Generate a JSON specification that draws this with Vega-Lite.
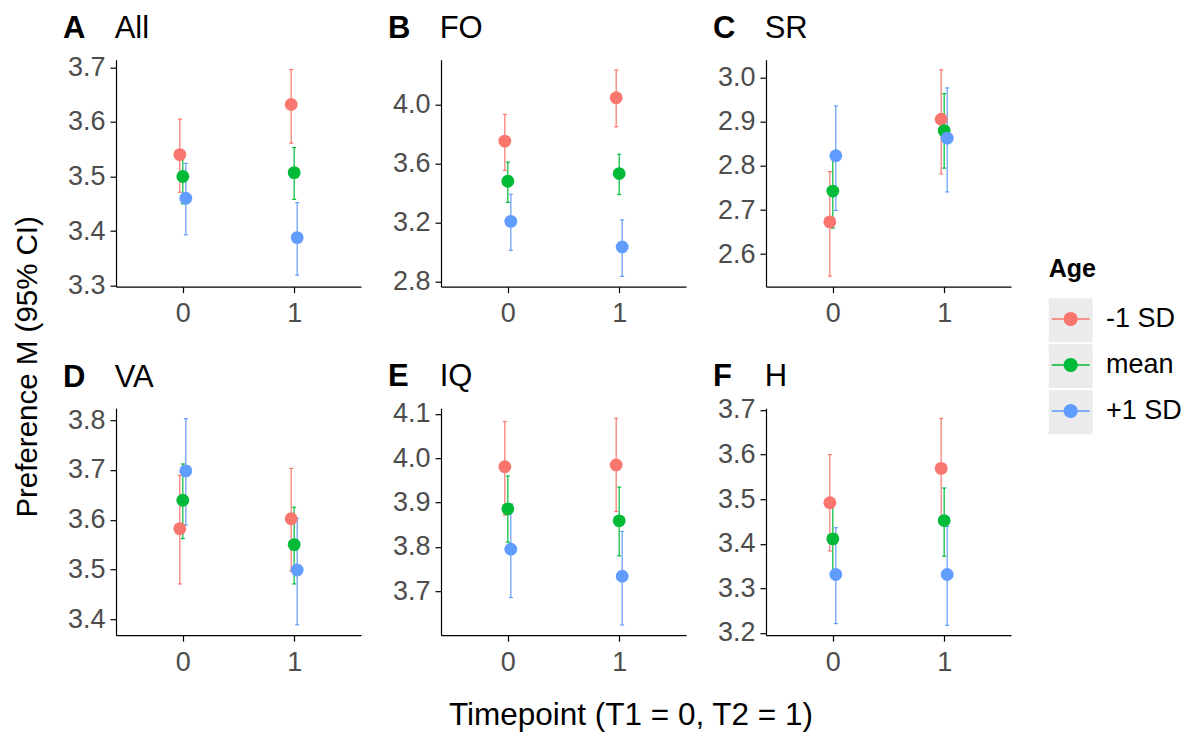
{
  "$schema": "https://vega.github.io/schema/vega-lite/v6.json",
  "padding": {"left": 12, "top": 12.7, "right": 0, "bottom": 0},
  "background": "white",
  "data": {"values": [
    {"panel": "All", "T": "0", "Age": "-1 SD", "m": 3.540, "lo": 3.471, "hi": 3.605},
    {"panel": "All", "T": "0", "Age": "mean", "m": 3.500, "lo": 3.450, "hi": 3.546},
    {"panel": "All", "T": "0", "Age": "+1 SD", "m": 3.460, "lo": 3.393, "hi": 3.524},
    {"panel": "All", "T": "1", "Age": "-1 SD", "m": 3.632, "lo": 3.561, "hi": 3.696},
    {"panel": "All", "T": "1", "Age": "mean", "m": 3.507, "lo": 3.458, "hi": 3.553},
    {"panel": "All", "T": "1", "Age": "+1 SD", "m": 3.388, "lo": 3.319, "hi": 3.452},
    {"panel": "FO", "T": "0", "Age": "-1 SD", "m": 3.751, "lo": 3.552, "hi": 3.932},
    {"panel": "FO", "T": "0", "Age": "mean", "m": 3.479, "lo": 3.336, "hi": 3.608},
    {"panel": "FO", "T": "0", "Age": "+1 SD", "m": 3.207, "lo": 3.010, "hi": 3.391},
    {"panel": "FO", "T": "1", "Age": "-1 SD", "m": 4.045, "lo": 3.848, "hi": 4.233},
    {"panel": "FO", "T": "1", "Age": "mean", "m": 3.531, "lo": 3.389, "hi": 3.662},
    {"panel": "FO", "T": "1", "Age": "+1 SD", "m": 3.033, "lo": 2.834, "hi": 3.217},
    {"panel": "SR", "T": "0", "Age": "-1 SD", "m": 2.673, "lo": 2.550, "hi": 2.787},
    {"panel": "SR", "T": "0", "Age": "mean", "m": 2.743, "lo": 2.659, "hi": 2.827},
    {"panel": "SR", "T": "0", "Age": "+1 SD", "m": 2.823, "lo": 2.699, "hi": 2.936},
    {"panel": "SR", "T": "1", "Age": "-1 SD", "m": 2.906, "lo": 2.782, "hi": 3.018},
    {"panel": "SR", "T": "1", "Age": "mean", "m": 2.880, "lo": 2.795, "hi": 2.964},
    {"panel": "SR", "T": "1", "Age": "+1 SD", "m": 2.863, "lo": 2.741, "hi": 2.977},
    {"panel": "VA", "T": "0", "Age": "-1 SD", "m": 3.582, "lo": 3.471, "hi": 3.689},
    {"panel": "VA", "T": "0", "Age": "mean", "m": 3.639, "lo": 3.562, "hi": 3.712},
    {"panel": "VA", "T": "0", "Age": "+1 SD", "m": 3.698, "lo": 3.589, "hi": 3.803},
    {"panel": "VA", "T": "1", "Age": "-1 SD", "m": 3.602, "lo": 3.497, "hi": 3.703},
    {"panel": "VA", "T": "1", "Age": "mean", "m": 3.550, "lo": 3.471, "hi": 3.625},
    {"panel": "VA", "T": "1", "Age": "+1 SD", "m": 3.499, "lo": 3.389, "hi": 3.603},
    {"panel": "IQ", "T": "0", "Age": "-1 SD", "m": 3.981, "lo": 3.872, "hi": 4.083},
    {"panel": "IQ", "T": "0", "Age": "mean", "m": 3.886, "lo": 3.811, "hi": 3.960},
    {"panel": "IQ", "T": "0", "Age": "+1 SD", "m": 3.795, "lo": 3.686, "hi": 3.897},
    {"panel": "IQ", "T": "1", "Age": "-1 SD", "m": 3.985, "lo": 3.880, "hi": 4.090},
    {"panel": "IQ", "T": "1", "Age": "mean", "m": 3.859, "lo": 3.780, "hi": 3.935},
    {"panel": "IQ", "T": "1", "Age": "+1 SD", "m": 3.734, "lo": 3.624, "hi": 3.835},
    {"panel": "H", "T": "0", "Age": "-1 SD", "m": 3.492, "lo": 3.384, "hi": 3.600},
    {"panel": "H", "T": "0", "Age": "mean", "m": 3.411, "lo": 3.333, "hi": 3.487},
    {"panel": "H", "T": "0", "Age": "+1 SD", "m": 3.331, "lo": 3.221, "hi": 3.436},
    {"panel": "H", "T": "1", "Age": "-1 SD", "m": 3.569, "lo": 3.457, "hi": 3.681},
    {"panel": "H", "T": "1", "Age": "mean", "m": 3.452, "lo": 3.372, "hi": 3.525},
    {"panel": "H", "T": "1", "Age": "+1 SD", "m": 3.331, "lo": 3.217, "hi": 3.439}
  ]},
  "title": {"text": "Preference M (95% CI)", "orient": "left", "anchor": "middle", "frame": "bounds", "fontSize": 29.5, "fontWeight": "normal", "dx": 5.5, "dy": 0, "offset": 19.5, "subtitle": ""},
  "vconcat": [{
    "title": {"text": "Timepoint (T1 = 0, T2 = 1)", "orient": "bottom", "anchor": "middle", "frame": "bounds", "fontSize": 31.5, "fontWeight": "normal", "dx": 94, "dy": 0, "offset": 25, "subtitle": ""},
    "spacing": 34.5,
    "vconcat": [
      {"spacing": 27, "hconcat": [
        {"width": 245, "height": 227, "title": {"text": "A", "subtitle": "\u200b\u00a0\u00a0\u00a0\u00a0\u00a0\u00a0All", "offset": 8.3},
         "transform": [{"filter": "datum.panel == 'All'"}],
         "encoding": {
           "x": {"field": "T", "type": "ordinal", "title": null, "scale": {"type": "point", "padding": 0.6}, "axis": {"labelAngle": 0}},
           "xOffset": {"field": "Age", "type": "nominal", "scale": {"type": "point", "domain": ["-1 SD", "mean", "+1 SD"], "range": [-4.5, 4.5]}},
           "color": {"field": "Age", "type": "nominal", "title": "Age", "scale": {"domain": ["-1 SD", "mean", "+1 SD"], "range": ["#F8766D", "#00BA38", "#619CFF"]}, "legend": {"zindex": 1}},
           "opacity": {"field": "Age", "type": "nominal", "scale": {"domain": ["mean", "-1 SD", "+1 SD"], "range": [1, 1, 1]}, "legend": {"title": null, "zindex": 0, "legendY": 238.5, "symbolType": "square", "symbolSize": 1936, "labelExpr": "''", "labelOffset": 0, "encode": {"symbols": {"update": {"fill": {"value": "#ebebeb"}, "stroke": {"value": "transparent"}, "opacity": {"value": 1}}}}}}
         },
         "layer": [
           {"mark": {"type": "rule", "strokeWidth": 1.2}, "encoding": {"y": {"field": "lo", "type": "quantitative", "title": null, "scale": {"domain": [3.298, 3.714], "nice": false, "zero": false}, "axis": {"values": [3.3, 3.4, 3.5, 3.6, 3.7], "format": ".1f"}}, "y2": {"field": "hi"}}},
           {"mark": {"type": "tick", "size": 4, "thickness": 1.2}, "encoding": {"y": {"field": "lo", "type": "quantitative", "title": null}}},
           {"mark": {"type": "tick", "size": 4, "thickness": 1.2}, "encoding": {"y": {"field": "hi", "type": "quantitative", "title": null}}},
           {"mark": {"type": "point", "filled": true, "size": 165}, "encoding": {"y": {"field": "m", "type": "quantitative", "title": null}}}
         ]},
        {"width": 245, "height": 227, "title": {"text": "B", "subtitle": "\u200b\u00a0\u00a0\u00a0\u00a0\u00a0\u00a0FO", "offset": 14.2},
         "transform": [{"filter": "datum.panel == 'FO'"}],
         "encoding": {
           "x": {"field": "T", "type": "ordinal", "title": null, "scale": {"type": "point", "padding": 0.6}, "axis": {"labelAngle": 0}},
           "xOffset": {"field": "Age", "type": "nominal", "scale": {"type": "point", "domain": ["-1 SD", "mean", "+1 SD"], "range": [-4.5, 4.5]}},
           "color": {"field": "Age", "type": "nominal", "title": "Age", "scale": {"domain": ["-1 SD", "mean", "+1 SD"], "range": ["#F8766D", "#00BA38", "#619CFF"]}, "legend": {"zindex": 1}},
           "opacity": {"field": "Age", "type": "nominal", "scale": {"domain": ["mean", "-1 SD", "+1 SD"], "range": [1, 1, 1]}, "legend": {"title": null, "zindex": 0, "legendY": 238.5, "symbolType": "square", "symbolSize": 1936, "labelExpr": "''", "labelOffset": 0, "encode": {"symbols": {"update": {"fill": {"value": "#ebebeb"}, "stroke": {"value": "transparent"}, "opacity": {"value": 1}}}}}}
         },
         "layer": [
           {"mark": {"type": "rule", "strokeWidth": 1.2}, "encoding": {"y": {"field": "lo", "type": "quantitative", "title": null, "scale": {"domain": [2.764, 4.303], "nice": false, "zero": false}, "axis": {"values": [2.8, 3.2, 3.6, 4.0], "format": ".1f"}}, "y2": {"field": "hi"}}},
           {"mark": {"type": "tick", "size": 4, "thickness": 1.2}, "encoding": {"y": {"field": "lo", "type": "quantitative", "title": null}}},
           {"mark": {"type": "tick", "size": 4, "thickness": 1.2}, "encoding": {"y": {"field": "hi", "type": "quantitative", "title": null}}},
           {"mark": {"type": "point", "filled": true, "size": 165}, "encoding": {"y": {"field": "m", "type": "quantitative", "title": null}}}
         ]},
        {"width": 245, "height": 227, "title": {"text": "C", "subtitle": "\u200b\u00a0\u00a0\u00a0\u00a0\u00a0\u00a0SR", "offset": 14.2},
         "transform": [{"filter": "datum.panel == 'SR'"}],
         "encoding": {
           "x": {"field": "T", "type": "ordinal", "title": null, "scale": {"type": "point", "padding": 0.6}, "axis": {"labelAngle": 0}},
           "xOffset": {"field": "Age", "type": "nominal", "scale": {"type": "point", "domain": ["-1 SD", "mean", "+1 SD"], "range": [-4.5, 4.5]}},
           "color": {"field": "Age", "type": "nominal", "title": "Age", "scale": {"domain": ["-1 SD", "mean", "+1 SD"], "range": ["#F8766D", "#00BA38", "#619CFF"]}, "legend": {"zindex": 1}},
           "opacity": {"field": "Age", "type": "nominal", "scale": {"domain": ["mean", "-1 SD", "+1 SD"], "range": [1, 1, 1]}, "legend": {"title": null, "zindex": 0, "legendY": 238.5, "symbolType": "square", "symbolSize": 1936, "labelExpr": "''", "labelOffset": 0, "encode": {"symbols": {"update": {"fill": {"value": "#ebebeb"}, "stroke": {"value": "transparent"}, "opacity": {"value": 1}}}}}}
         },
         "layer": [
           {"mark": {"type": "rule", "strokeWidth": 1.2}, "encoding": {"y": {"field": "lo", "type": "quantitative", "title": null, "scale": {"domain": [2.526, 3.041], "nice": false, "zero": false}, "axis": {"values": [2.6, 2.7, 2.8, 2.9, 3.0], "format": ".1f"}}, "y2": {"field": "hi"}}},
           {"mark": {"type": "tick", "size": 4, "thickness": 1.2}, "encoding": {"y": {"field": "lo", "type": "quantitative", "title": null}}},
           {"mark": {"type": "tick", "size": 4, "thickness": 1.2}, "encoding": {"y": {"field": "hi", "type": "quantitative", "title": null}}},
           {"mark": {"type": "point", "filled": true, "size": 165}, "encoding": {"y": {"field": "m", "type": "quantitative", "title": null}}}
         ]}
      ]},
      {"spacing": 27, "hconcat": [
        {"width": 245, "height": 227, "title": {"text": "D", "subtitle": "\u200b\u00a0\u00a0\u00a0\u00a0\u00a0\u00a0VA", "offset": 12.6},
         "transform": [{"filter": "datum.panel == 'VA'"}],
         "encoding": {
           "x": {"field": "T", "type": "ordinal", "title": null, "scale": {"type": "point", "padding": 0.6}, "axis": {"labelAngle": 0}},
           "xOffset": {"field": "Age", "type": "nominal", "scale": {"type": "point", "domain": ["-1 SD", "mean", "+1 SD"], "range": [-4.5, 4.5]}},
           "color": {"field": "Age", "type": "nominal", "title": "Age", "scale": {"domain": ["-1 SD", "mean", "+1 SD"], "range": ["#F8766D", "#00BA38", "#619CFF"]}, "legend": {"zindex": 1}},
           "opacity": {"field": "Age", "type": "nominal", "scale": {"domain": ["mean", "-1 SD", "+1 SD"], "range": [1, 1, 1]}, "legend": {"title": null, "zindex": 0, "legendY": 238.5, "symbolType": "square", "symbolSize": 1936, "labelExpr": "''", "labelOffset": 0, "encode": {"symbols": {"update": {"fill": {"value": "#ebebeb"}, "stroke": {"value": "transparent"}, "opacity": {"value": 1}}}}}}
         },
         "layer": [
           {"mark": {"type": "rule", "strokeWidth": 1.2}, "encoding": {"y": {"field": "lo", "type": "quantitative", "title": null, "scale": {"domain": [3.368, 3.824], "nice": false, "zero": false}, "axis": {"values": [3.4, 3.5, 3.6, 3.7, 3.8], "format": ".1f"}}, "y2": {"field": "hi"}}},
           {"mark": {"type": "tick", "size": 4, "thickness": 1.2}, "encoding": {"y": {"field": "lo", "type": "quantitative", "title": null}}},
           {"mark": {"type": "tick", "size": 4, "thickness": 1.2}, "encoding": {"y": {"field": "hi", "type": "quantitative", "title": null}}},
           {"mark": {"type": "point", "filled": true, "size": 165}, "encoding": {"y": {"field": "m", "type": "quantitative", "title": null}}}
         ]},
        {"width": 245, "height": 227, "title": {"text": "E", "subtitle": "\u200b\u00a0\u00a0\u00a0\u00a0\u00a0\u00a0IQ", "offset": 6.5},
         "transform": [{"filter": "datum.panel == 'IQ'"}],
         "encoding": {
           "x": {"field": "T", "type": "ordinal", "title": null, "scale": {"type": "point", "padding": 0.6}, "axis": {"labelAngle": 0}},
           "xOffset": {"field": "Age", "type": "nominal", "scale": {"type": "point", "domain": ["-1 SD", "mean", "+1 SD"], "range": [-4.5, 4.5]}},
           "color": {"field": "Age", "type": "nominal", "title": "Age", "scale": {"domain": ["-1 SD", "mean", "+1 SD"], "range": ["#F8766D", "#00BA38", "#619CFF"]}, "legend": {"zindex": 1}},
           "opacity": {"field": "Age", "type": "nominal", "scale": {"domain": ["mean", "-1 SD", "+1 SD"], "range": [1, 1, 1]}, "legend": {"title": null, "zindex": 0, "legendY": 238.5, "symbolType": "square", "symbolSize": 1936, "labelExpr": "''", "labelOffset": 0, "encode": {"symbols": {"update": {"fill": {"value": "#ebebeb"}, "stroke": {"value": "transparent"}, "opacity": {"value": 1}}}}}}
         },
         "layer": [
           {"mark": {"type": "rule", "strokeWidth": 1.2}, "encoding": {"y": {"field": "lo", "type": "quantitative", "title": null, "scale": {"domain": [3.601, 4.113], "nice": false, "zero": false}, "axis": {"values": [3.7, 3.8, 3.9, 4.0, 4.1], "format": ".1f"}}, "y2": {"field": "hi"}}},
           {"mark": {"type": "tick", "size": 4, "thickness": 1.2}, "encoding": {"y": {"field": "lo", "type": "quantitative", "title": null}}},
           {"mark": {"type": "tick", "size": 4, "thickness": 1.2}, "encoding": {"y": {"field": "hi", "type": "quantitative", "title": null}}},
           {"mark": {"type": "point", "filled": true, "size": 165}, "encoding": {"y": {"field": "m", "type": "quantitative", "title": null}}}
         ]},
        {"width": 245, "height": 227, "title": {"text": "F", "subtitle": "\u200b\u00a0\u00a0\u00a0\u00a0\u00a0\u00a0H", "offset": 2.5},
         "transform": [{"filter": "datum.panel == 'H'"}],
         "encoding": {
           "x": {"field": "T", "type": "ordinal", "title": null, "scale": {"type": "point", "padding": 0.6}, "axis": {"labelAngle": 0}},
           "xOffset": {"field": "Age", "type": "nominal", "scale": {"type": "point", "domain": ["-1 SD", "mean", "+1 SD"], "range": [-4.5, 4.5]}},
           "color": {"field": "Age", "type": "nominal", "title": "Age", "scale": {"domain": ["-1 SD", "mean", "+1 SD"], "range": ["#F8766D", "#00BA38", "#619CFF"]}, "legend": {"zindex": 1}},
           "opacity": {"field": "Age", "type": "nominal", "scale": {"domain": ["mean", "-1 SD", "+1 SD"], "range": [1, 1, 1]}, "legend": {"title": null, "zindex": 0, "legendY": 238.5, "symbolType": "square", "symbolSize": 1936, "labelExpr": "''", "labelOffset": 0, "encode": {"symbols": {"update": {"fill": {"value": "#ebebeb"}, "stroke": {"value": "transparent"}, "opacity": {"value": 1}}}}}}
         },
         "layer": [
           {"mark": {"type": "rule", "strokeWidth": 1.2}, "encoding": {"y": {"field": "lo", "type": "quantitative", "title": null, "scale": {"domain": [3.195, 3.704], "nice": false, "zero": false}, "axis": {"values": [3.2, 3.3, 3.4, 3.5, 3.6, 3.7], "format": ".1f"}}, "y2": {"field": "hi"}}},
           {"mark": {"type": "tick", "size": 4, "thickness": 1.2}, "encoding": {"y": {"field": "lo", "type": "quantitative", "title": null}}},
           {"mark": {"type": "tick", "size": 4, "thickness": 1.2}, "encoding": {"y": {"field": "hi", "type": "quantitative", "title": null}}},
           {"mark": {"type": "point", "filled": true, "size": 165}, "encoding": {"y": {"field": "m", "type": "quantitative", "title": null}}}
         ]}
      ]}
    ]
  }],
  "config": {
    "font": "Liberation Sans",
    "view": {"stroke": null},
    "axis": {"grid": false, "domainColor": "black", "domainWidth": 1.2, "tickColor": "black", "tickWidth": 1.2, "tickSize": 6, "labelFont": "Liberation Sans", "labelFontSize": 27, "labelColor": "#4d4d4d"},
    "axisX": {"labelPadding": 8},
    "axisY": {"labelPadding": 5},
    "title": {"anchor": "start", "frame": "group", "font": "Liberation Sans", "fontSize": 31, "fontWeight": "bold", "color": "black", "dx": -53, "offset": 7, "subtitleFont": "Liberation Sans", "subtitleFontSize": 31, "subtitleFontWeight": "normal", "subtitleColor": "black", "subtitlePadding": -31},
    "legend": {
      "orient": "none", "legendX": 932.7, "legendY": 197, "padding": 0,
      "titleFontSize": 25, "titleFontWeight": "bold", "titleColor": "black", "titleFont": "Liberation Sans", "titlePadding": 15.25,
      "labelFontSize": 27, "labelColor": "black", "labelFont": "Liberation Sans", "labelOffset": 13.3,
      "symbolType": "M-1,-1L-1,-1M1,1L1,1M-0.864,-0.032H-0.31V0.032H-0.864Z M0.31,-0.032H0.864V0.032H0.31Z M-0.32,0A0.32,0.32,0,1,1,0.32,0A0.32,0.32,0,1,1,-0.32,0Z",
      "symbolSize": 1936, "symbolStrokeWidth": 0, "symbolOpacity": 1, "rowPadding": 2
    }
  }
}
